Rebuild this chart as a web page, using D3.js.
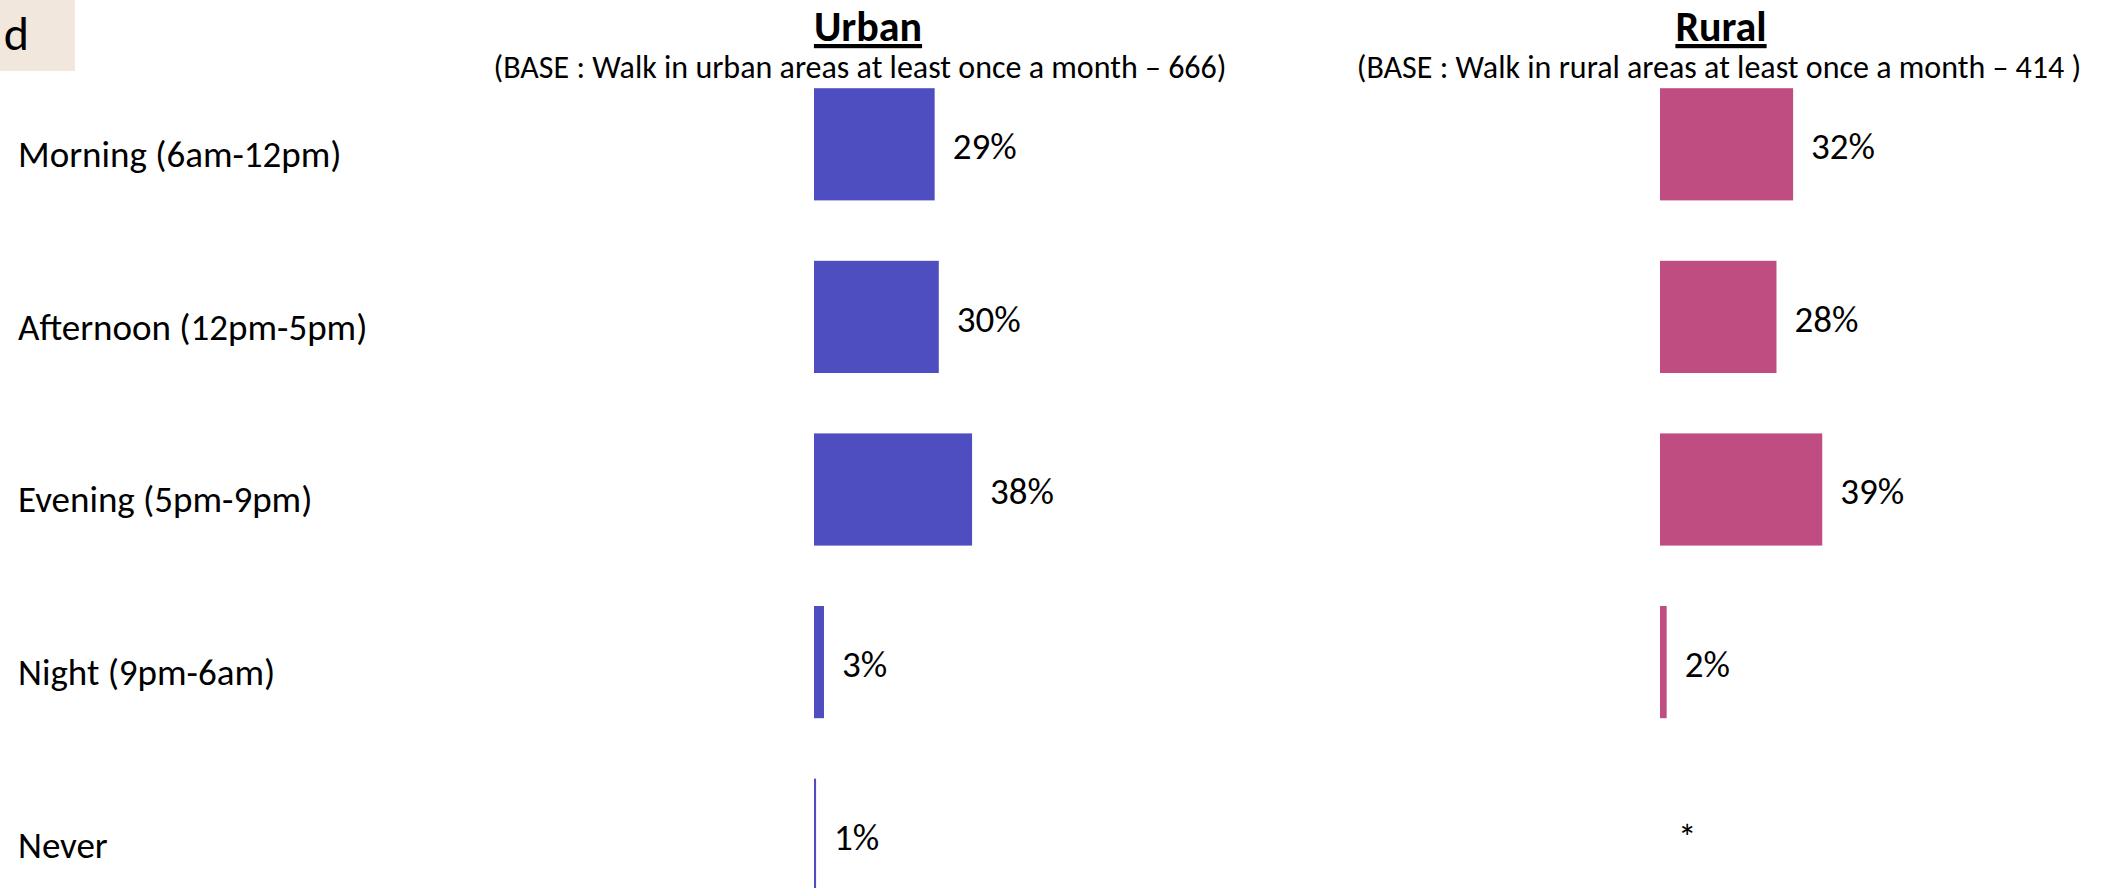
<!DOCTYPE html>
<html>
<head>
<meta charset="utf-8">
<script src="https://cdn.jsdelivr.net/npm/d3@7"></script>
<style>
  body { margin: 0; background: #fff; }
  svg { display: block; font-family: Carlito, Calibri, Lato, sans-serif; }
</style>
</head>
<body>
<svg id="svg" width="2103" height="888"></svg>
<script>
var categories = ["Morning (6am-12pm)", "Afternoon (12pm-5pm)", "Evening (5pm-9pm)", "Night (9pm-6am)", "Never"];
var urbanValues = [29, 30, 38, 2.4, 0.5];
var urbanLabels = ["29%", "30%", "38%", "3%", "1%"];
var ruralValues = [32, 28, 39, 1.6, 0];
var ruralLabels = ["32%", "28%", "39%", "2%", "*"];
var panelTitles = ["Urban", "Rural"];
var panelBases = ["(BASE : Walk in urban areas at least once a month \u2013 666)",
                  "(BASE : Walk in rural areas at least once a month \u2013 414 )"];

var svg = d3.select("#svg");

// corner tab
svg.append("rect").attr("x", 0).attr("y", 0).attr("width", 75).attr("height", 71).attr("fill", "#f2e7dc");
svg.append("text").attr("x", 29).attr("y", 50).attr("text-anchor", "end")
  .style("font-size", "48px").attr("fill", "#000").text("d");

var yScale = d3.scaleBand()
  .domain(categories)
  .range([58, 921])
  .paddingInner(0.35)
  .paddingOuter(0.175);

var xScale = d3.scaleLinear().domain([0, 100]).range([0, 416]);

// row labels
svg.append("g").selectAll("text").data(categories).enter()
  .append("text")
  .attr("x", 18)
  .attr("y", function (d) { return yScale(d) + yScale.bandwidth() / 2 + 10; })
  .attr("dy", "0.35em")
  .style("font-size", "37px")
  .text(function (d) { return d; });

var panels = [
  {x0: 814, cx: 868, sub: 860, values: urbanValues, labels: urbanLabels, color: "#4f4ec1"},
  {x0: 1660, cx: 1721, sub: 1719, values: ruralValues, labels: ruralLabels, color: "#c04d82"}
];

panels.forEach(function (p, k) {
  var g = svg.append("g").attr("transform", "translate(" + p.x0 + ",0)");

  svg.append("text").attr("x", p.cx).attr("y", 41).attr("text-anchor", "middle")
    .style("font-size", "42px").style("font-weight", "bold").style("text-decoration", "underline")
    .text(panelTitles[k]);
  svg.append("text").attr("x", p.sub).attr("y", 78).attr("text-anchor", "middle")
    .style("font-size", "32px").text(panelBases[k]);

  g.selectAll("rect").data(p.values).enter()
    .append("rect")
    .attr("x", 0)
    .attr("y", function (d, i) { return yScale(categories[i]); })
    .attr("width", function (d) { return xScale(d); })
    .attr("height", yScale.bandwidth())
    .attr("fill", p.color);

  g.selectAll("text.val").data(p.values).enter()
    .append("text")
    .attr("class", "val")
    .attr("x", function (d) { return xScale(d) + 18; })
    .attr("y", function (d, i) { return yScale(categories[i]) + yScale.bandwidth() / 2 + 2; })
    .attr("dy", "0.35em")
    .style("font-size", "37px")
    .text(function (d, i) { return p.labels[i]; });
});
</script>
</body>
</html>
